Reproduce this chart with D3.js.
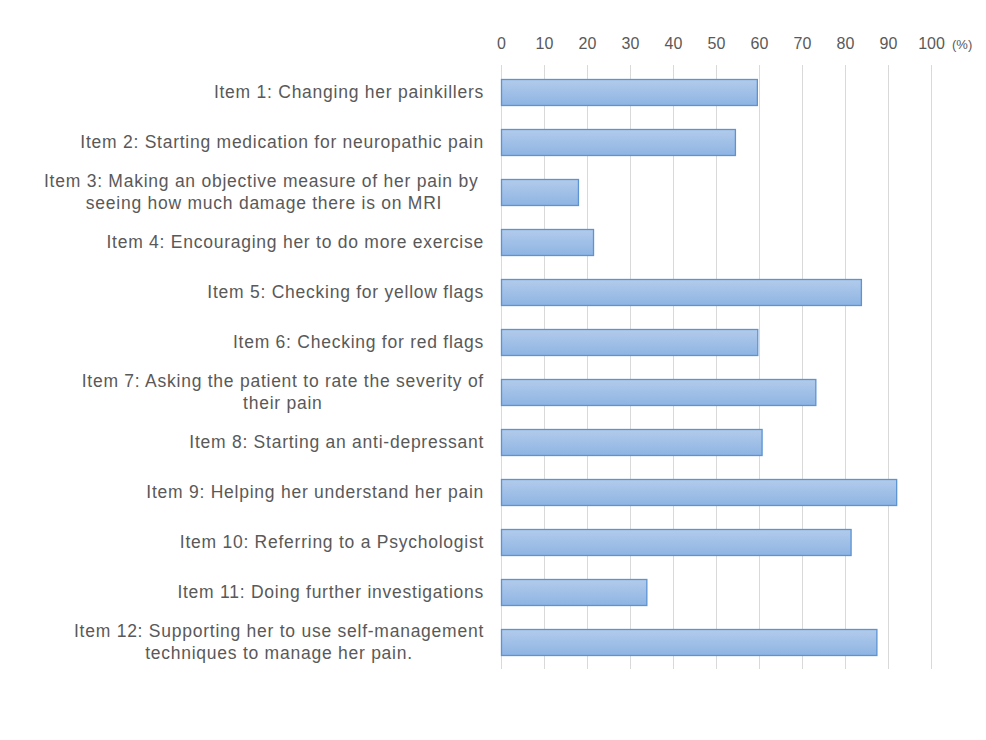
<!DOCTYPE html>
<html>
<head>
<meta charset="utf-8">
<script src="https://cdn.jsdelivr.net/npm/d3@7"></script>
<style>
  body { margin: 0; background: #fff; }
  svg text { font-family: "Liberation Sans", Arial, sans-serif; font-size: 16px; fill: #595959; }
  svg text.cat { font-size: 17.5px; letter-spacing: 0.75px; white-space: pre; }
  .grid line { stroke: #d9d9d9; stroke-width: 1; }
</style>
</head>
<body>
<div class="chart"></div>
<script>
"use strict"

let width = 986,
    height = 740;

// label lines for each item
const items = [
    ["Item 1: Changing her painkillers"],
    ["Item 2: Starting medication for neuropathic pain"],
    ["Item 3: Making an objective measure of her pain by ", "seeing how much damage there is on MRI"],
    ["Item 4: Encouraging her to do more exercise"],
    ["Item 5: Checking for yellow flags"],
    ["Item 6: Checking for red flags"],
    ["Item 7: Asking the patient to rate the severity of", "their pain"],
    ["Item 8: Starting an anti-depressant"],
    ["Item 9: Helping her understand her pain"],
    ["Item 10: Referring to a Psychologist"],
    ["Item 11: Doing further investigations"],
    ["Item 12: Supporting her to use self-management", "techniques to manage her pain."]
];
const values = [59.5, 54.4, 17.9, 21.4, 83.7, 59.6, 73.1, 60.6, 91.9, 81.3, 33.8, 87.3];
const ticks = [0, 10, 20, 30, 40, 50, 60, 70, 80, 90, 100];

const plotLeft = 501, plotRight = 931, plotTop = 67, plotBottom = 667;

const svg = d3.select("div.chart").append("svg")
    .attr("width", width)
    .attr("height", height);

const scaleX = d3.scaleLinear()
    .domain([0, 100])
    .range([plotLeft, plotRight]);

const scaleY = d3.scaleBand()
    .domain(d3.range(items.length))
    .range([plotTop, plotBottom])
    .paddingInner(0.48)
    .paddingOuter(0.24);

const defs = svg.append("defs");
const grad = defs.append("linearGradient")
    .attr("id", "barGrad")
    .attr("x1", 0).attr("y1", 0)
    .attr("x2", 0).attr("y2", 1);
grad.append("stop").attr("offset", "0%").attr("stop-color", "#b3cbeb");
grad.append("stop").attr("offset", "100%").attr("stop-color", "#8db4e3");

// grid
svg.append("g")
    .attr("class", "grid")
    .selectAll("line")
    .data(ticks)
    .join("line")
    .attr("x1", d => Math.round(scaleX(d)) + 0.5)
    .attr("x2", d => Math.round(scaleX(d)) + 0.5)
    .attr("y1", plotTop - 2)
    .attr("y2", plotBottom + 2);

// top axis labels
const xAxis = d3.axisTop(scaleX)
    .tickValues(ticks)
    .tickSize(0)
    .tickPadding(0);
const ax = svg.append("g")
    .attr("transform", "translate(0,49)")
    .call(xAxis);
ax.select(".domain").remove();
ax.attr("font-family", null).attr("font-size", null);

svg.append("text")
    .attr("x", scaleX(100) + 21)
    .attr("y", 49)
    .style("font-size", "13px")
    .attr("text-anchor", "start")
    .text("(%)");

// bars
svg.append("g")
    .selectAll("rect")
    .data(values)
    .join("rect")
    .attr("x", scaleX(0) + 0.5)
    .attr("y", (d, i) => Math.round(scaleY(i)) + 0.5)
    .attr("width", d => scaleX(d) - scaleX(0))
    .attr("height", Math.round(scaleY.bandwidth()))
    .attr("fill", "url(#barGrad)")
    .attr("stroke", "#5b93d3")
    .attr("stroke-width", 1.3);

// category labels: block right-aligned, lines centred
const labelRight = 484;
const lineH = 22;
items.forEach((lines, i) => {
    const g = svg.append("g");
    const cy = scaleY(i) + scaleY.bandwidth() / 2;
    const txt = lines.map((s, k) => g.append("text")
        .attr("class", "cat")
        .attr("y", cy + (k - (lines.length - 1) / 2) * lineH)
        .attr("dy", "0.35em")
        .attr("text-anchor", "middle")
        .text(s));
    const w = d3.max(txt, t => t.node().getComputedTextLength());
    txt.forEach(t => t.attr("x", labelRight - w / 2));
});
</script>
</body>
</html>
